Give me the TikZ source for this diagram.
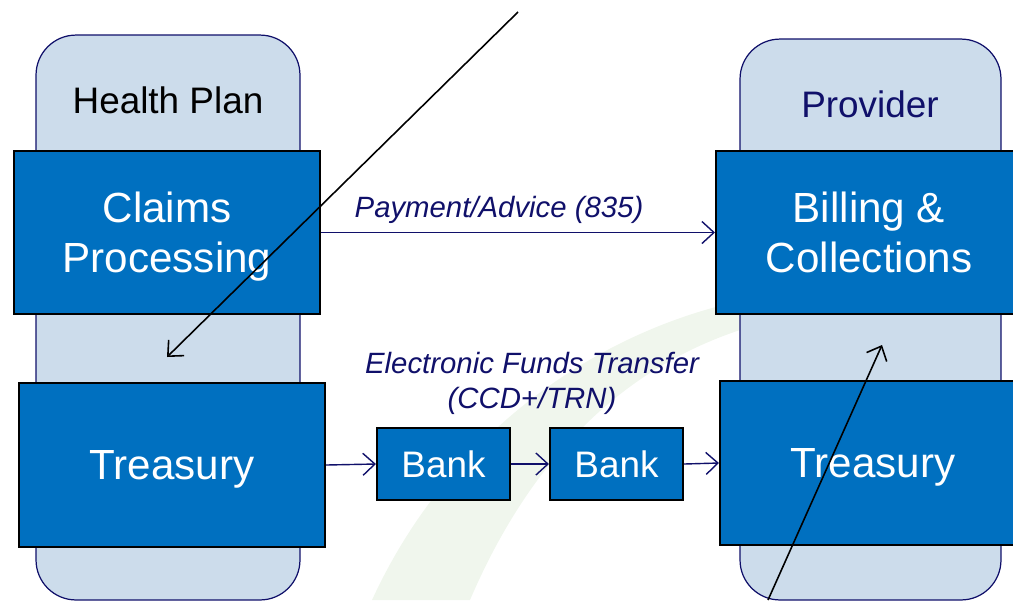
\documentclass[tikz,border=0pt]{standalone}
\usepackage{fontspec}
\setmainfont{Liberation Sans}
\usetikzlibrary{arrows.meta}

\definecolor{boxblue}{RGB}{0,112,192}
\definecolor{paleblue}{RGB}{204,220,235}
\definecolor{navy}{RGB}{16,16,106}
\definecolor{swoosh}{RGB}{240,246,237}

\begin{document}
\begin{tikzpicture}[x=0.02cm, y=-0.02cm,
    party/.style={draw=navy, fill=paleblue, rounded corners=0.8cm, line width=0.7pt, inner sep=0pt},
    partyname/.style={anchor=base, font=\fontsize{21}{25}\selectfont},
    unit/.style={draw=black, fill=boxblue, text=white, line width=1.2pt, align=center,
        inner sep=0pt, text depth=0pt, font=\fontsize{24}{28.5}\selectfont},
    bank/.style={unit, minimum width=2.66cm, minimum height=1.44cm, font=\fontsize{21}{25}\selectfont},
    flow/.style={draw=navy, line width=0.8pt, -{Straight Barb[length=2.4mm,width=4.4mm]}},
    flowtext/.style={text=navy, align=center, font=\fontsize{16.7}{20}\selectfont\itshape},
    pointer/.style={draw=black, line width=0.9pt, -{Straight Barb[length=2.4mm,width=4.4mm]}}]
    \useasboundingbox (0,0) rectangle (1013,600);
    % faint background swoosh
    \fill[swoosh] (372,600) .. controls (450,430) and (600,330) .. (745,300)
        -- (740,330) .. controls (620,370) and (530,460) .. (470,600) -- cycle;

    % the two parties
    \node[party, minimum width=5.28cm, minimum height=11.3cm] (hp) at (168,317.5) {};
    \node[party, minimum width=5.22cm, minimum height=11.22cm] (pr) at (870.5,319.5) {};
    \node[partyname] (hpname) at (168,113) {Health Plan};
    \node[partyname, text=navy] (prname) at (870,117) {Provider};

    % boxes
    \node[unit, minimum width=6.12cm, minimum height=3.26cm] (claims) at (167,232.5) {Claims\\Processing};
    \node[unit, minimum width=6.12cm, minimum height=3.26cm] (billing) at (869,232.5) {Billing \&\\Collections};
    \node[unit, minimum width=6.12cm, minimum height=3.28cm] (hptreas) at (172,465) {Treasury};
    \node[unit, minimum width=6.12cm, minimum height=3.28cm] (prtreas) at (873,463) {Treasury};
    \node[bank] (bankA) at (443.5,464) {Bank};
    \node[bank] (bankB) at (616.5,464) {Bank};

    % flows
    \draw[flow] (claims.east) -- (billing.west);
    \node[flowtext, anchor=base] (advice) at (499,217) {Payment/Advice (835)};
    \draw[flow] (hptreas.east) -- (bankA.west);
    \draw[flow] (bankA.east) -- (bankB.west);
    \draw[flow] (bankB.east) -- (prtreas.west);
    \node[flowtext] (eft) at (532,383) {Electronic Funds Transfer\\(CCD+/TRN)};

    % pointers
    \coordinate (topend) at (518,12);
    \coordinate (hpspot) at (167,357);
    \coordinate (bottomend) at (768,600);
    \coordinate (prspot) at (882,345);
    \draw[pointer] (topend) -- (hpspot);
    \draw[pointer] (bottomend) -- (prspot);
\end{tikzpicture}
\end{document}
